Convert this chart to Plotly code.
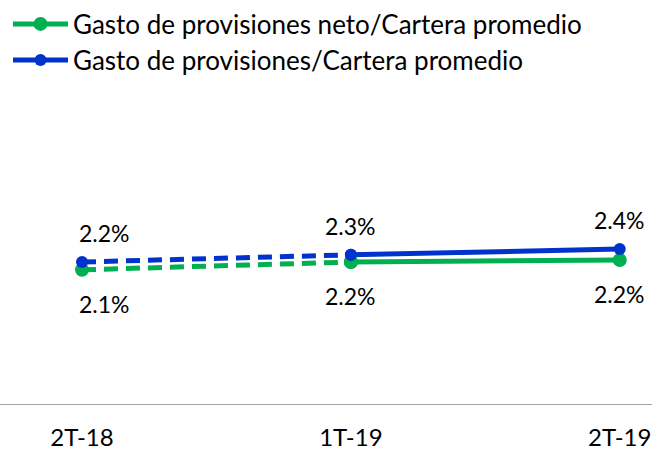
import plotly.graph_objects as go

categories = ["2T-18", "1T-19", "2T-19"]
neto = [2.08, 2.20, 2.23]
bruto = [2.20, 2.31, 2.40]
neto_labels = ["2.1%", "2.2%", "2.2%"]
bruto_labels = ["2.2%", "2.3%", "2.4%"]
names = ["Gasto de provisiones neto/Cartera promedio", "Gasto de provisiones/Cartera promedio"]

GREEN = "#00B050"
BLUE = "#0033CC"
FONT = "Lato"

x = list(range(len(categories)))
fig = go.Figure()

for vals, color, name, msize, lg in [(neto, GREEN, names[0], 14, "legend"), (bruto, BLUE, names[1], 12, "legend2")]:
    fig.add_trace(go.Scatter(x=x[:2], y=vals[:2], mode="lines+markers",
                             line=dict(color=color, width=5, dash="14px,8px"),
                             marker=dict(color=color, size=msize),
                             showlegend=False, hoverinfo="skip"))
    fig.add_trace(go.Scatter(x=x[1:], y=vals[1:], mode="lines+markers",
                             line=dict(color=color, width=5),
                             marker=dict(color=color, size=msize),
                             name=name, legend=lg))

shifts = [22, 0, 0]
for i in x:
    fig.add_annotation(x=i, y=bruto[i], text=bruto_labels[i], showarrow=False,
                       yshift=29, xshift=shifts[i], font=dict(size=23, color="#000", family=FONT))
    fig.add_annotation(x=i, y=neto[i], text=neto_labels[i], showarrow=False,
                       yshift=-34, xshift=shifts[i], font=dict(size=23, color="#000", family=FONT))

legend_common = dict(x=8 / 652, xanchor="left", yanchor="middle", bgcolor="rgba(0,0,0,0)",
                     font=dict(size=26, family=FONT), itemwidth=55)
fig.update_layout(
    width=652, height=450,
    margin=dict(l=0, r=0, t=0, b=45),
    paper_bgcolor="white", plot_bgcolor="white",
    font=dict(family=FONT, size=18, color="#000"),
    legend=dict(y=1 - 24 / 405, **legend_common),
    legend2=dict(y=1 - 60 / 405, **legend_common),
    xaxis=dict(range=[-0.305, 2.12], tickvals=x, ticktext=categories,
               tickfont=dict(size=24, family=FONT, color="#000"), ticklabelstandoff=16,
               showgrid=False, zeroline=False, showline=False, ticks="",
               automargin=False, fixedrange=True),
    yaxis=dict(range=[0, 405 / 65], visible=False, automargin=False, fixedrange=True),
)
fig.add_shape(type="line", xref="paper", yref="y", x0=0, x1=1, y0=0, y1=0,
              line=dict(color="#A0A0A0", width=2))

fig.write_html("out.html", config={"displayModeBar": False},
               post_script="document.body.style.margin='0px';document.body.style.overflow='hidden';")
